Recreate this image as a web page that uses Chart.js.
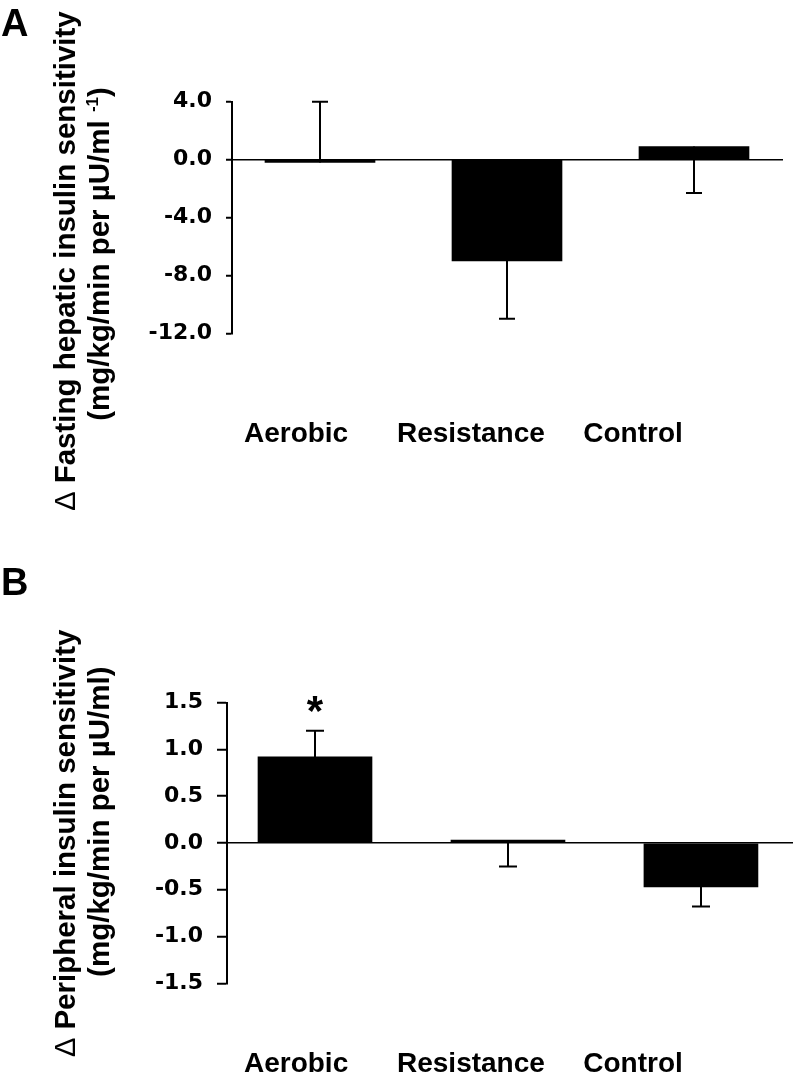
<!DOCTYPE html>
<html><head><meta charset="utf-8">
<script src="https://cdn.jsdelivr.net/npm/chart.js@4.4.1/dist/chart.umd.min.js"></script>
<style>
html,body{margin:0;padding:0;background:#fff;}
#wrap{position:relative;width:794px;height:1088px;background:#fff;}
canvas{position:absolute;left:0;top:0;}
</style></head><body>
<div id="wrap">
<div style="position:absolute;left:0;top:0;width:794px;height:544px"><canvas id="cA" width="794" height="544"></canvas></div>
<div style="position:absolute;left:0;top:544px;width:794px;height:544px"><canvas id="cB" width="794" height="544"></canvas></div>
</div>
<script>
// ---------- data ----------
const categories = ['Aerobic', 'Resistance', 'Control'];
const valuesA = [-0.2, -7.0, 0.9];      // Δ fasting hepatic insulin sensitivity
const errEndA = [4.0, -11.0, -2.3];     // error bar end points
const valuesB = [0.92, 0.03, -0.47];    // Δ peripheral insulin sensitivity
const errEndB = [1.20, -0.25, -0.68];
const sigB = ['*', '', ''];
const ticksA = [-12, -8, -4, 0, 4];
const ticksB = [-1.5, -1.0, -0.5, 0, 0.5, 1.0, 1.5];
const titleA1 = 'Fasting hepatic insulin sensitivity';
const titleA2 = '(mg/kg/min per µU/ml ';
const titleA2sup = '-1';
const titleB1 = 'Peripheral insulin sensitivity';
const titleB2 = '(mg/kg/min per µU/ml)';

// ---------- layout ----------
const FONT = '"Liberation Sans", Arial, sans-serif';
const TICKFONT = '"DejaVu Sans", sans-serif';

function vtext(ctx, parts, bx, cy) {
  ctx.save();
  ctx.translate(bx, cy);
  ctx.rotate(-Math.PI / 2);
  ctx.fillStyle = '#000';
  ctx.textAlign = 'left';
  ctx.textBaseline = 'alphabetic';
  const fonts = parts.map(p => `${p.w || 'bold'} ${p.s}px ${FONT}`);
  const widths = parts.map((p, i) => { ctx.font = fonts[i]; return ctx.measureText(p.t).width; });
  const total = widths.reduce((a, b) => a + b, 0);
  let x = -total / 2;
  parts.forEach((p, i) => { ctx.font = fonts[i]; ctx.fillText(p.t, x, -(p.r || 0)); x += widths[i]; });
  ctx.restore();
}

function overlay(P) {
  return {
    id: 'overlay',
    afterDatasetsDraw(chart) {
      const ctx = chart.ctx, meta = chart.getDatasetMeta(0), ys = chart.scales.y;
      ctx.save();
      ctx.strokeStyle = '#000';
      ctx.fillStyle = '#000';
      ctx.lineWidth = 2;
      meta.data.forEach((bar, i) => {
        const x = Math.round(bar.x);
        const y0 = ys.getPixelForValue(P.values[i]);
        const y1 = ys.getPixelForValue(P.errEnd[i]);
        ctx.beginPath();
        ctx.moveTo(x, y0); ctx.lineTo(x, y1);
        ctx.moveTo(x - P.cap / 2, y1); ctx.lineTo(x + P.cap / 2, y1);
        ctx.stroke();
        if (P.sig && P.sig[i]) {
          ctx.font = `bold 42px ${FONT}`;
          ctx.textAlign = 'center';
          ctx.textBaseline = 'alphabetic';
          ctx.fillText(P.sig[i], x, y1 - 6);
        }
      });
      ctx.restore();
    },
    afterDraw(chart) {
      const ctx = chart.ctx;
      ctx.save();
      ctx.fillStyle = '#000';
      ctx.font = `bold 38px ${FONT}`;
      ctx.textAlign = 'left';
      ctx.textBaseline = 'alphabetic';
      ctx.fillText(P.letter, 1, P.letterY);
      ctx.restore();
      vtext(ctx, P.title1, 75, P.t1y);
      vtext(ctx, P.title2, 109, P.t2y);
    }
  };
}

function makeChart(id, P) {
  return new Chart(document.getElementById(id), {
    type: 'bar',
    data: {
      datasets: [{
        data: categories.map((c, i) => ({ x: i, y: P.values[i] })),
        backgroundColor: '#000',
        borderWidth: 0,
        barThickness: P.barW,
        xAxisID: 'x', yAxisID: 'y'
      }]
    },
    options: {
      responsive: false,
      animation: false,
      devicePixelRatio: 1,
      layout: { padding: { top: P.top, right: P.right, left: 0, bottom: 0 } },
      plugins: { legend: { display: false }, tooltip: { enabled: false } },
      scales: {
        x: { type: 'linear', min: P.xmin, max: P.xmax, display: false, offset: false, grid: { offset: false } },
        xl: {
          type: 'linear', position: 'bottom', min: P.xmin, max: P.xmax, offset: false,
          grid: { display: false, drawTicks: false, offset: false },
          border: { display: false },
          afterBuildTicks: s => { s.ticks = P.labelPos.map(v => ({ value: v })); },
          afterFit: s => { s.height = P.xlH; },
          ticks: {
            padding: P.labPad, autoSkip: false, maxRotation: 0, minRotation: 0, color: '#000',
            font: { family: FONT, weight: 'bold', size: 28 },
            callback: (v, i) => categories[i]
          }
        },
        y: {
          type: 'linear', min: P.ymin, max: P.ymax,
          afterBuildTicks: s => { s.ticks = P.ticks.map(v => ({ value: v })); },
          afterFit: s => { s.width = P.left; },
          grid: {
            color: c => (c.tick && c.tick.value === 0) ? '#000' : 'rgba(0,0,0,0)',
            lineWidth: 1.5, tickColor: '#000', tickWidth: 2, tickLength: P.tickLen, drawTicks: true
          },
          border: { display: true, color: '#000', width: 2 },
          ticks: {
            padding: 14, color: '#000', autoSkip: false,
            font: { family: TICKFONT, weight: 'bold', size: 22 },
            callback: v => Number(v).toFixed(1)
          }
        }
      }
    },
    plugins: [overlay(P)]
  });
}

makeChart('cA', {
  values: valuesA, errEnd: errEndA, ticks: ticksA, sig: null,
  ymin: -12, ymax: 4, xmin: -0.4706, xmax: 2.476,
  top: 101.7, right: 11, left: 232, xlH: 210.7, labPad: 84, tickLen: 6,
  barW: 110, cap: 16,
  labelPos: [-0.128, 0.807, 1.674],
  letter: 'A', letterY: 36,
  title1: [{ t: 'Δ ', s: 29, w: 'normal' }, { t: titleA1, s: 29.5 }], t1y: 261,
  title2: [{ t: titleA2, s: 29.5 }, { t: titleA2sup, s: 17, r: 11 }, { t: ')', s: 29.5 }], t2y: 254
});

makeChart('cB', {
  values: valuesB, errEnd: errEndB, ticks: ticksB, sig: sigB,
  ymin: -1.5, ymax: 1.5, xmin: -0.456, xmax: 2.477,
  top: 158.7, right: 1, left: 227, xlH: 104.7, labPad: 64, tickLen: 10,
  barW: 114, cap: 18,
  labelPos: [-0.098, 0.808, 1.648],
  letter: 'B', letterY: 51,
  title1: [{ t: 'Δ ', s: 29, w: 'normal' }, { t: titleB1, s: 29.5 }], t1y: 299.3,
  title2: [{ t: titleB2, s: 29.5 }], t2y: 277.7
});
</script>
</body></html>
